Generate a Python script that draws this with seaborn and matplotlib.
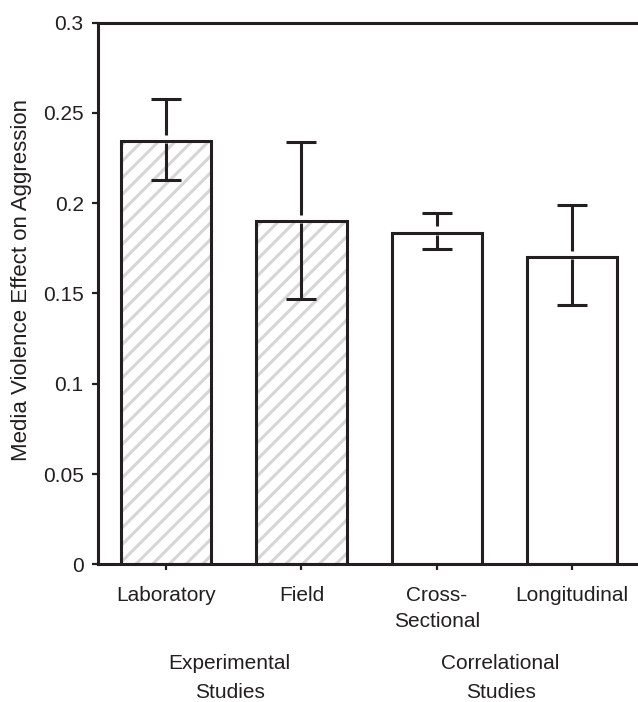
import matplotlib
matplotlib.use("Agg")
import matplotlib.pyplot as plt
import matplotlib.transforms as mtransforms
from matplotlib.patches import Rectangle
import numpy as np
import pandas as pd
import seaborn as sns

# ---- data ----
categories = ["Laboratory", "Field", "Cross-\nSectional", "Longitudinal"]
effect = [0.2345, 0.1903, 0.1837, 0.1701]
ci_upper = [0.2579, 0.2338, 0.1946, 0.1990]
ci_lower = [0.2129, 0.1470, 0.1745, 0.1436]
design = ["Experimental", "Experimental", "Correlational", "Correlational"]
group_names = ["Experimental", "Correlational"]
group_labels = ["Experimental\nStudies", "Correlational\nStudies"]
yticks = [0, 0.05, 0.1, 0.15, 0.2, 0.25, 0.3]
ytick_labels = ["0", "0.05", "0.1", "0.15", "0.2", "0.25", "0.3"]
ylabel = "Media Violence Effect on Aggression"

INK = "#231f20"
HATCH = "#d6d6d6"

sns.set_theme(style="ticks")
plt.rcParams["font.family"] = ["Liberation Sans", "DejaVu Sans"]
plt.rcParams["hatch.linewidth"] = 2.2
plt.rcParams["text.color"] = INK

df = pd.DataFrame({"category": categories, "effect": effect, "design": design})

fig = plt.figure(figsize=(6.38, 7.02), dpi=100)
ax = fig.add_axes([0.1541, 0.1962, 0.846, 0.7715])

sns.barplot(data=df, x="category", y="effect", ax=ax, color="white",
            edgecolor=INK, linewidth=2.2, width=0.668, errorbar=None,
            saturation=1, zorder=2)

bars = list(ax.patches)
for p, d in zip(bars, design):
    p.set_facecolor("none")
    if d == "Experimental":
        ax.add_patch(Rectangle(p.get_xy(), p.get_width(), p.get_height(),
                               facecolor="white", edgecolor=HATCH, linewidth=0,
                               hatch="//", zorder=1))

x = np.arange(len(categories))
eff = np.array(effect)
up = np.array(ci_upper)
lo = np.array(ci_lower)

# caps (stems drawn separately so they break around the bar top)
ax.errorbar(x, eff, yerr=[eff - lo, up - eff], fmt="none", elinewidth=0,
            capsize=10.8, capthick=2.2, ecolor=INK, zorder=3)
gap_above = 0.0034
gap_below = 0.0012
ax.vlines(x, eff + gap_above, up, colors=INK, linewidth=2.2, zorder=3)
ax.vlines(x, lo, eff - gap_below, colors=INK, linewidth=2.2, zorder=3)

ax.set_xlim(-0.5, 3.486)
ax.set_ylim(0, 0.3)
ax.set_yticks(yticks)
ax.set_yticklabels(ytick_labels)
ax.set_xlabel("")
ax.set_ylabel(ylabel, fontsize=16, color=INK)
ax.yaxis.set_label_coords(-0.122, 0.525)

for s in ["left", "bottom", "top"]:
    ax.spines[s].set_linewidth(2.2)
    ax.spines[s].set_color(INK)
ax.spines["right"].set_visible(False)

ax.tick_params(axis="both", direction="out", length=4.5, width=1.6,
               color=INK, labelcolor=INK, labelsize=15)
ax.tick_params(axis="x", pad=11.5)
ax.tick_params(axis="y", pad=6)
for t in ax.get_xticklabels():
    t.set_linespacing(1.45)

trans = mtransforms.blended_transform_factory(ax.transData, fig.transFigure)
for g, lab in zip(group_names, group_labels):
    idx = [i for i, d in enumerate(design) if d == g]
    xc = float(np.mean(idx)) - 0.03
    ax.text(xc, 1 - 678 / 702, lab, transform=trans, ha="center", va="center",
            fontsize=15, color=INK, linespacing=1.72)

fig.savefig("out.png", dpi=100)
